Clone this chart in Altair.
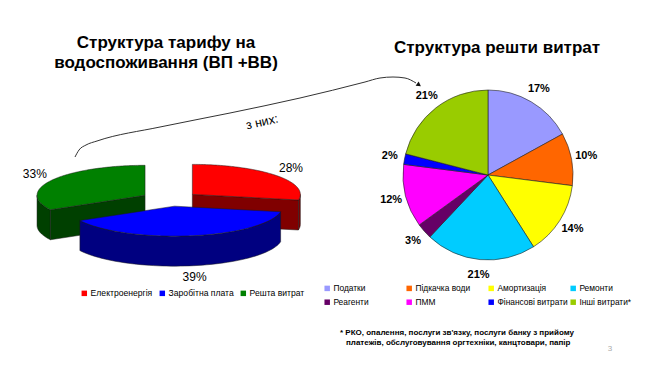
import altair as alt
import numpy as np
import pandas as pd

# ---------------- data ----------------
left_cats = ["Електроенергія", "Заробітна плата", "Решта витрат"]
left_vals = [28, 39, 33]
left_colors = ["#FF0000", "#0000FF", "#008000"]
left_side_colors = ["#800000", "#000080", "#004000"]

right_cats = ["Податки", "Підкачка води", "Амортизація", "Ремонти",
              "Реагенти", "ПММ", "Фінансові витрати", "Інші витрати*"]
right_vals = [17, 10, 14, 21, 3, 12, 2, 21]
right_colors = ["#9999FF", "#FF6600", "#FFFF00", "#00CCFF",
                "#660066", "#FF00FF", "#0000FF", "#99CC00"]

title_left = ["Структура тарифу на", "водоспоживання (ВП +ВВ)"]
title_right = "Структура решти витрат"
note_lines = ["* РКО, опалення, послуги зв'язку, послуги банку з прийому",
              "платежів, обслуговування оргтехніки, канцтовари, папір"]
arrow_label = "з них:"
page_no = "3"

# ---------------- layout ----------------
FONT = "Liberation Sans"
W, H = 634, 349
xs = alt.Scale(domain=[8, 642], nice=False, zero=False)
ys = alt.Scale(domain=[8, 357], nice=False, zero=False, reverse=True)

def X(f="x"):
    return alt.X(f + ":Q", scale=xs, axis=None)

def Y(f="y"):
    return alt.Y(f + ":Q", scale=ys, axis=None)

# 3D exploded pie geometry (left)
OX, OY = 170, 199      # pie centre
A, B = 108, 30         # ellipse semi-axes
T = 30                 # thickness
D, KD = 29, 0.25       # explosion distance

def P(cx, cy, th):
    return cx + A * np.sin(th), cy - B * np.cos(th)

rows, labels_left, slices = [], [], []
counter = [0]

def add(poly, face, i, cat):
    counter[0] += 1
    pid = f"p{counter[0]}"
    pts = list(poly) + [poly[0]]
    for k, (px, py) in enumerate(pts):
        rows.append(dict(cat=cat, sc=left_side_colors[i], face=face,
                         slice=i, pid=pid, o=k, x=px, y=py))

total = sum(left_vals)
cum = 0.0
for i, (cat, v) in enumerate(zip(left_cats, left_vals)):
    t1 = 2 * np.pi * cum / total
    t2 = 2 * np.pi * (cum + v) / total
    cum += v
    m = (t1 + t2) / 2
    cx = OX + D * np.sin(m)
    cy = OY - D * KD * np.cos(m)
    slices.append((np.cos(m), i))
    # outer curved side (front half only)
    lo, hi = max(t1, np.pi / 2), min(t2, 3 * np.pi / 2)
    if hi > lo:
        ths = np.linspace(lo, hi, 60)
        top = [P(cx, cy, t) for t in ths]
        bot = [(px, py + T) for (px, py) in top[::-1]]
        add(top + bot, "side", i, cat)
    # visible radial cut faces
    if np.sin(t1) < -1e-6:
        ex, ey = P(cx, cy, t1)
        add([(cx, cy), (ex, ey), (ex, ey + T), (cx, cy + T)], "side", i, cat)
    if -np.sin(t2) < -1e-6:
        ex, ey = P(cx, cy, t2)
        add([(cx, cy), (ex, ey), (ex, ey + T), (cx, cy + T)], "side", i, cat)
    ths = np.linspace(t1, t2, 120)
    add([(cx, cy)] + [P(cx, cy, t) for t in ths], "top", i, cat)
    # label
    R, KL = 128, 0.32
    lx = cx + R * np.sin(m)
    ly = cy - R * KL * np.cos(m) + (T if np.cos(m) < 0 else 0)
    labels_left.append(dict(x=lx, y=ly, t=f"{v}%"))

poly_df = pd.DataFrame(rows)
lab_left_df = pd.DataFrame(labels_left)

left_layers = []
first = True
for _, i in sorted(slices, reverse=True):
    sub = poly_df[poly_df["slice"] == i]
    side = sub[sub["face"] == "side"]
    top = sub[sub["face"] == "top"]
    if len(side):
        left_layers.append(
            alt.Chart(side).mark_line(filled=True, stroke="#1a1a1a", strokeWidth=0.5,
                                      strokeJoin="round")
            .encode(x=X(), y=Y(), detail="pid:N", order="o:Q",
                    fill=alt.Fill("sc:N", scale=None))
        )
    leg = (alt.Legend(orient="none", legendX=72, legendY=281, direction="horizontal",
                      columns=3, title=None, symbolType="square", symbolSize=30,
                      symbolStrokeWidth=0, labelFontSize=8.6, labelFont=FONT,
                      labelColor="#000", columnPadding=5, labelOffset=2, padding=0)
           if first else None)
    first = False
    left_layers.append(
        alt.Chart(top).mark_line(filled=True, stroke="#1a1a1a", strokeWidth=0.5,
                                 strokeJoin="round")
        .encode(x=X(), y=Y(), detail="pid:N", order="o:Q",
                color=alt.Color("cat:N", scale=alt.Scale(domain=left_cats, range=left_colors),
                                legend=leg))
    )

left_lab_layer = alt.Chart(lab_left_df).mark_text(font=FONT, fontSize=12, color="#000").encode(
    x=X(), y=Y(), text="t:N")

# right pie
right_df = pd.DataFrame({"cat": right_cats, "v": right_vals,
                         "idx": list(range(len(right_cats))),
                         "lab": [f"{v}%" for v in right_vals]})
RCX, RCY = 488 - 8, 175 - 8
pie = alt.Chart(right_df).mark_arc(outerRadius=85, stroke="#222", strokeWidth=0.6).encode(
    theta=alt.Theta("v:Q", stack=True),
    order=alt.Order("idx:Q"),
    color=alt.Color("cat:N", scale=alt.Scale(domain=right_cats, range=right_colors),
                    legend=alt.Legend(orient="none", legendX=315, legendY=276,
                                      direction="horizontal", columns=4, gridAlign="all",
                                      title=None, symbolType="square", symbolSize=30,
                                      symbolStrokeWidth=0, labelFontSize=8.4, labelFont=FONT,
                                      labelColor="#000", columnPadding=1, rowPadding=5,
                                      labelOffset=2, padding=0)),
    x=alt.value(RCX), y=alt.value(RCY),
)
pie_lab = alt.Chart(right_df).mark_text(radius=100, font=FONT, fontSize=11,
                                        fontWeight="bold", color="#000").encode(
    theta=alt.Theta("v:Q", stack=True),
    order=alt.Order("idx:Q"),
    text="lab:N",
    x=alt.value(RCX), y=alt.value(RCY),
)

# titles and notes
t_left = pd.DataFrame({"x": [166, 166], "y": [48, 68], "t": title_left})
t_right = pd.DataFrame({"x": [497], "y": [53], "t": [title_right]})
titles = alt.Chart(pd.concat([t_left, t_right])).mark_text(
    font=FONT, fontSize=17, fontWeight="bold", baseline="alphabetic", color="#000"
).encode(x=X(), y=Y(), text="t:N")

notes = alt.Chart(pd.DataFrame({"x": [340, 346], "y": [335, 345], "t": note_lines})).mark_text(
    font=FONT, fontSize=8, fontWeight="bold", align="left", baseline="alphabetic", color="#000"
).encode(x=X(), y=Y(), text="t:N")

pg = alt.Chart(pd.DataFrame({"x": [610], "y": [351], "t": [page_no]})).mark_text(
    font=FONT, fontSize=8, color="#aaaaaa", baseline="alphabetic").encode(x=X(), y=Y(), text="t:N")

# connector curve
curve_df = pd.DataFrame({
    "x": [75, 79, 86, 97, 160, 230, 300, 365, 380, 393, 405, 416],
    "y": [157, 150, 145, 141, 127, 113, 98, 82, 78, 77, 78, 83],
})
curve_df["o"] = range(len(curve_df))
curve = alt.Chart(curve_df).mark_line(interpolate="monotone", color="#333", strokeWidth=1).encode(
    x=X(), y=Y(), order="o:Q")
head = alt.Chart(pd.DataFrame({"x": [419], "y": [85]})).mark_point(
    shape="triangle-right", angle=35, size=28, filled=True, color="#111", opacity=1).encode(
    x=X(), y=Y())
arrow_txt = alt.Chart(pd.DataFrame({"x": [262], "y": [122], "t": [arrow_label]})).mark_text(
    font=FONT, fontSize=12.5, angle=347, color="#000").encode(x=X(), y=Y(), text="t:N")

left_pie = alt.layer(*left_layers)

chart = alt.layer(
    left_pie, left_lab_layer, curve, head, arrow_txt, pie, pie_lab, titles, notes, pg
).resolve_scale(color="independent").properties(
    width=W, height=H, padding=0, autosize="none", background="white"
).configure_view(stroke=None)

chart.save("out.html", embed_options={"renderer": "svg", "actions": False})
